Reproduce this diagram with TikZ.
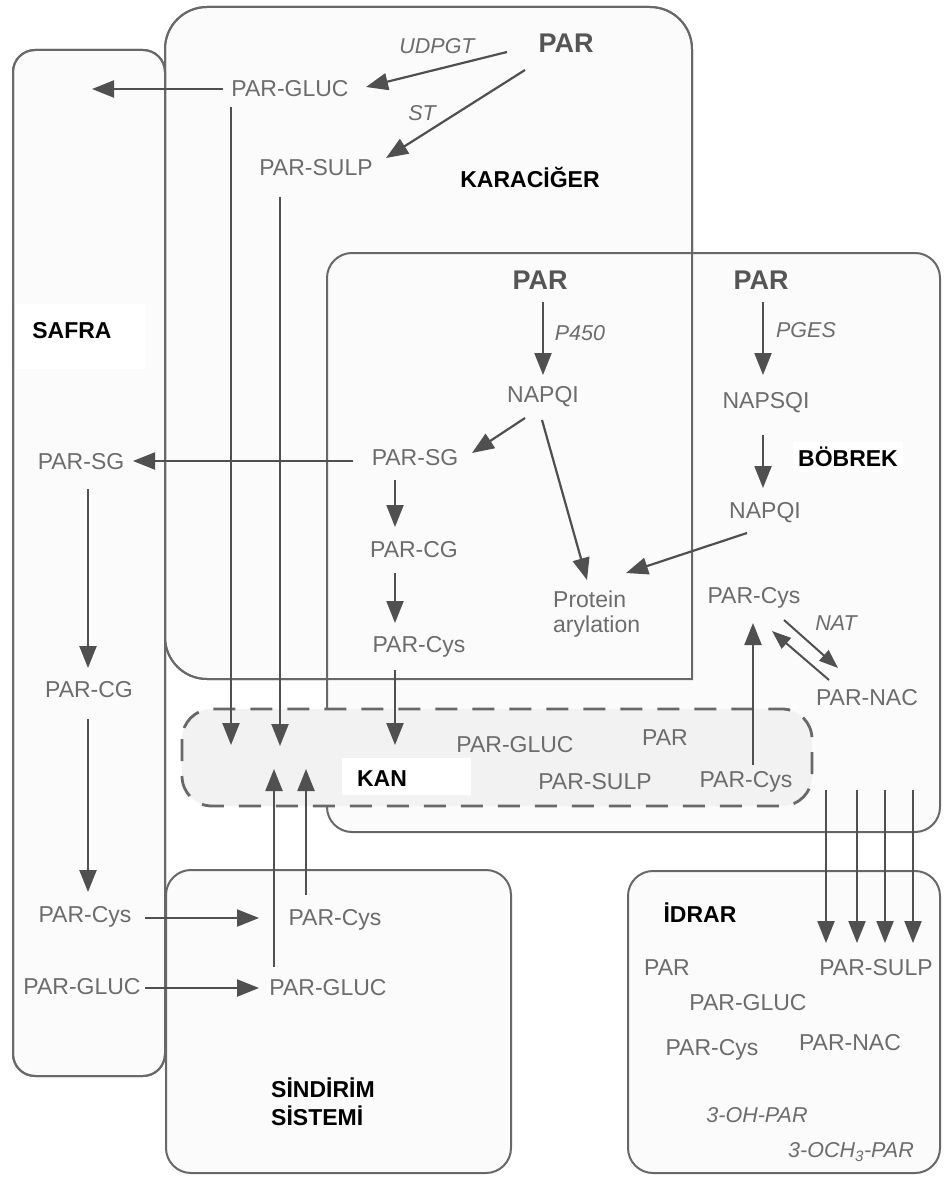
\documentclass[tikz,border=0pt]{standalone}
\usepackage{fontspec}
\setmainfont{Liberation Sans}
\usetikzlibrary{arrows.meta}
\definecolor{linec}{HTML}{686868}
\definecolor{arrc}{HTML}{505050}
\definecolor{txtc}{HTML}{6C6C6C}
\definecolor{boldc}{HTML}{555555}
\definecolor{boxfill}{HTML}{FBFBFB}
\definecolor{kanfill}{HTML}{F2F2F2}
\begin{document}
\begin{tikzpicture}[x=1pt,y=-1pt,
  lbl/.style={font=\fontsize{23}{25}\selectfont, text=txtc, inner sep=0pt},
  enz/.style={font=\fontsize{21.5}{24}\selectfont\itshape, text=txtc, inner sep=0pt},
  bpar/.style={font=\fontsize{27}{29}\selectfont\bfseries, text=boldc, inner sep=0pt},
  title/.style={font=\fontsize{23}{28}\selectfont\bfseries, text=black, inner sep=0pt},
  organ/.style={draw=linec, line width=2pt, fill=boxfill, rounded corners=22pt},
  arr/.style={draw=arrc, line width=2.2pt, -{Triangle[length=22pt,width=17pt]}},
  sarr/.style={draw=arrc, line width=2pt, -{Triangle[length=19pt,width=14pt]}}]
\useasboundingbox[fill=white] (0,0) rectangle (943,1177);

% ---------- organ boxes ----------
\path[organ] (13,50) rectangle (165,1076);
\path[draw=linec, line width=2pt, fill=boxfill, line cap=rect]
  (692,679) [rounded corners=42pt] -- (165,679) -- (165,7) -- (692,7) -- (692,679);
\path[organ, rounded corners=25pt] (327,253) rectangle (940,832);
\path[organ, rounded corners=25pt] (166,870) rectangle (511,1173);
\path[organ, rounded corners=25pt] (628,871) rectangle (940,1173);
% redraw outlines so overlapping edges stay visible
\draw[linec, line width=2pt, rounded corners=22pt] (13,50) rectangle (165,1076);
\draw[linec, line width=2pt, line cap=rect]
  (692,679) [rounded corners=42pt] -- (165,679) -- (165,7) -- (692,7) -- (692,679);

% ---------- blood (KAN) dashed box ----------
\draw[linec, line width=2.8pt, fill=kanfill, rounded corners=30pt,
      dash pattern=on 22pt off 15pt] (182,709) rectangle (812,806);

% white label backgrounds
\fill[white] (15,304) rectangle (145,369);
\fill[white] (342,758) rectangle (471,795);

% ---------- titles ----------
\node[title] (tkar) at (530,177) {KARACİĞER};
\node[title, fill=white, inner sep=5pt] (tbob) at (848,457) {BÖBREK};
\node[title] (tsaf) at (72,331) {SAFRA};
\node[title] (tkan) at (382,779) {KAN};
\node[title] (tidr) at (700,913) {İDRAR};
\node[title, anchor=west, align=left] (tsin) at (271,1102) {SİNDİRİM\\SİSTEMİ};

% ---------- liver ----------
\node[bpar] (lpar1) at (566,43) {PAR};
\node[enz] (udpgt) at (437,46) {UDPGT};
\node[lbl] (lgluc) at (290,89) {PAR-GLUC};
\node[enz] (st) at (422,113) {ST};
\node[lbl] (lsulp) at (316,168) {PAR-SULP};
\node[bpar] (lpar2) at (540,280) {PAR};
\node[enz] (p450) at (580,333) {P450};
\node[lbl] (lnapqi) at (543,397) {NAPQI};
\node[lbl] (lsg) at (415,458) {PAR-SG};
\node[lbl] (lcg) at (414,550) {PAR-CG};
\node[lbl] (lcys) at (419,647) {PAR-Cys};
\node[lbl, align=left, anchor=west, font=\fontsize{23}{25}\selectfont] (prot) at (553,614) {Protein\\arylation};

% ---------- kidney ----------
\node[bpar] (kpar) at (761,280) {PAR};
\node[enz] (pges) at (806,330) {PGES};
\node[lbl] (knapsqi) at (766,403) {NAPSQI};
\node[lbl] (knapqi) at (765,513) {NAPQI};
\node[lbl] (kcys) at (754,598) {PAR-Cys};
\node[enz] (nat) at (836,623) {NAT};
\node[lbl] (knac) at (867,698) {PAR-NAC};

% ---------- blood ----------
\node[lbl] (bgluc) at (515,745) {PAR-GLUC};
\node[lbl] (bpar) at (665,738) {PAR};
\node[lbl] (bsulp) at (595,782) {PAR-SULP};
\node[lbl] (bcys) at (746,782) {PAR-Cys};

% ---------- bile ----------
\node[lbl] (ssg) at (81,462) {PAR-SG};
\node[lbl] (scg) at (89,690) {PAR-CG};
\node[lbl] (scys) at (85,917) {PAR-Cys};
\node[lbl] (sgluc) at (82,987) {PAR-GLUC};

% ---------- digestive ----------
\node[lbl] (dcys) at (335,920) {PAR-Cys};
\node[lbl] (dgluc) at (328,988) {PAR-GLUC};

% ---------- urine ----------
\node[lbl] (upar) at (667,968) {PAR};
\node[lbl] (usulp) at (876,968) {PAR-SULP};
\node[lbl] (ugluc) at (748,1003) {PAR-GLUC};
\node[lbl] (ucys) at (712,1050) {PAR-Cys};
\node[lbl] (unac) at (850,1043) {PAR-NAC};
\node[enz] (uoh) at (757,1115) {3-OH-PAR};
\node[enz] (uoch) at (851,1152) {3-OCH\textsubscript{3}-PAR};

% ---------- connector end points ----------
\coordinate (e1a) at (507,52);  \coordinate (e1b) at (366,87);
\coordinate (e2a) at (525,70);  \coordinate (e2b) at (386,158);
\coordinate (e3a) at (223,89);  \coordinate (e3b) at (92,89);
\coordinate (e4a) at (231,107); \coordinate (e4b) at (231,745);
\coordinate (e5a) at (280,197); \coordinate (e5b) at (280,746);
\coordinate (e6a) at (543,302); \coordinate (e6b) at (543,375);
\coordinate (e7a) at (525,418); \coordinate (e7b) at (472,453);
\coordinate (e8a) at (542,420); \coordinate (e8b) at (587,580);
\coordinate (e9a) at (353,461); \coordinate (e9b) at (133,461);
\coordinate (e10a) at (395,480); \coordinate (e10b) at (395,527);
\coordinate (e11a) at (395,573); \coordinate (e11b) at (395,623);
\coordinate (e12a) at (395,670); \coordinate (e12b) at (395,745);
\coordinate (e13a) at (763,302); \coordinate (e13b) at (763,375);
\coordinate (e14a) at (763,435); \coordinate (e14b) at (763,488);
\coordinate (e15a) at (747,533); \coordinate (e15b) at (626,573);
\coordinate (e16a) at (753,765); \coordinate (e16b) at (753,623);
\coordinate (n1a) at (784,620); \coordinate (n1b) at (838,668);
\coordinate (n2a) at (829,680); \coordinate (n2b) at (772,631);
\coordinate (u1a) at (826,790); \coordinate (u1b) at (826,943);
\coordinate (u2a) at (857,790); \coordinate (u2b) at (857,943);
\coordinate (u3a) at (885,790); \coordinate (u3b) at (885,943);
\coordinate (u4a) at (913,790); \coordinate (u4b) at (913,943);
\coordinate (s1a) at (88,489);  \coordinate (s1b) at (88,668);
\coordinate (s2a) at (88,719);  \coordinate (s2b) at (88,892);
\coordinate (s3a) at (145,918); \coordinate (s3b) at (259,918);
\coordinate (s4a) at (145,988); \coordinate (s4b) at (259,988);
\coordinate (d1a) at (274,967); \coordinate (d1b) at (274,769);
\coordinate (d2a) at (306,895); \coordinate (d2b) at (306,769);

% ---------- connectors ----------
\draw[arr] (e1a) -- (e1b);
\draw[arr] (e2a) -- (e2b);
\draw[arr] (e3a) -- (e3b);
\draw[arr] (e4a) -- (e4b);
\draw[arr] (e5a) -- (e5b);
\draw[arr] (e6a) -- (e6b);
\draw[arr] (e7a) -- (e7b);
\draw[arr] (e8a) -- (e8b);
\draw[arr] (e9a) -- (e9b);
\draw[arr] (e10a) -- (e10b);
\draw[arr] (e11a) -- (e11b);
\draw[arr] (e12a) -- (e12b);
\draw[arr] (e13a) -- (e13b);
\draw[arr] (e14a) -- (e14b);
\draw[arr] (e15a) -- (e15b);
\draw[arr] (e16a) -- (e16b);
\draw[sarr] (n1a) -- (n1b);
\draw[sarr] (n2a) -- (n2b);
\draw[arr] (u1a) -- (u1b);
\draw[arr] (u2a) -- (u2b);
\draw[arr] (u3a) -- (u3b);
\draw[arr] (u4a) -- (u4b);
\draw[arr] (s1a) -- (s1b);
\draw[arr] (s2a) -- (s2b);
\draw[arr] (s3a) -- (s3b);
\draw[arr] (s4a) -- (s4b);
\draw[arr] (d1a) -- (d1b);
\draw[arr] (d2a) -- (d2b);
\end{tikzpicture}
\end{document}
